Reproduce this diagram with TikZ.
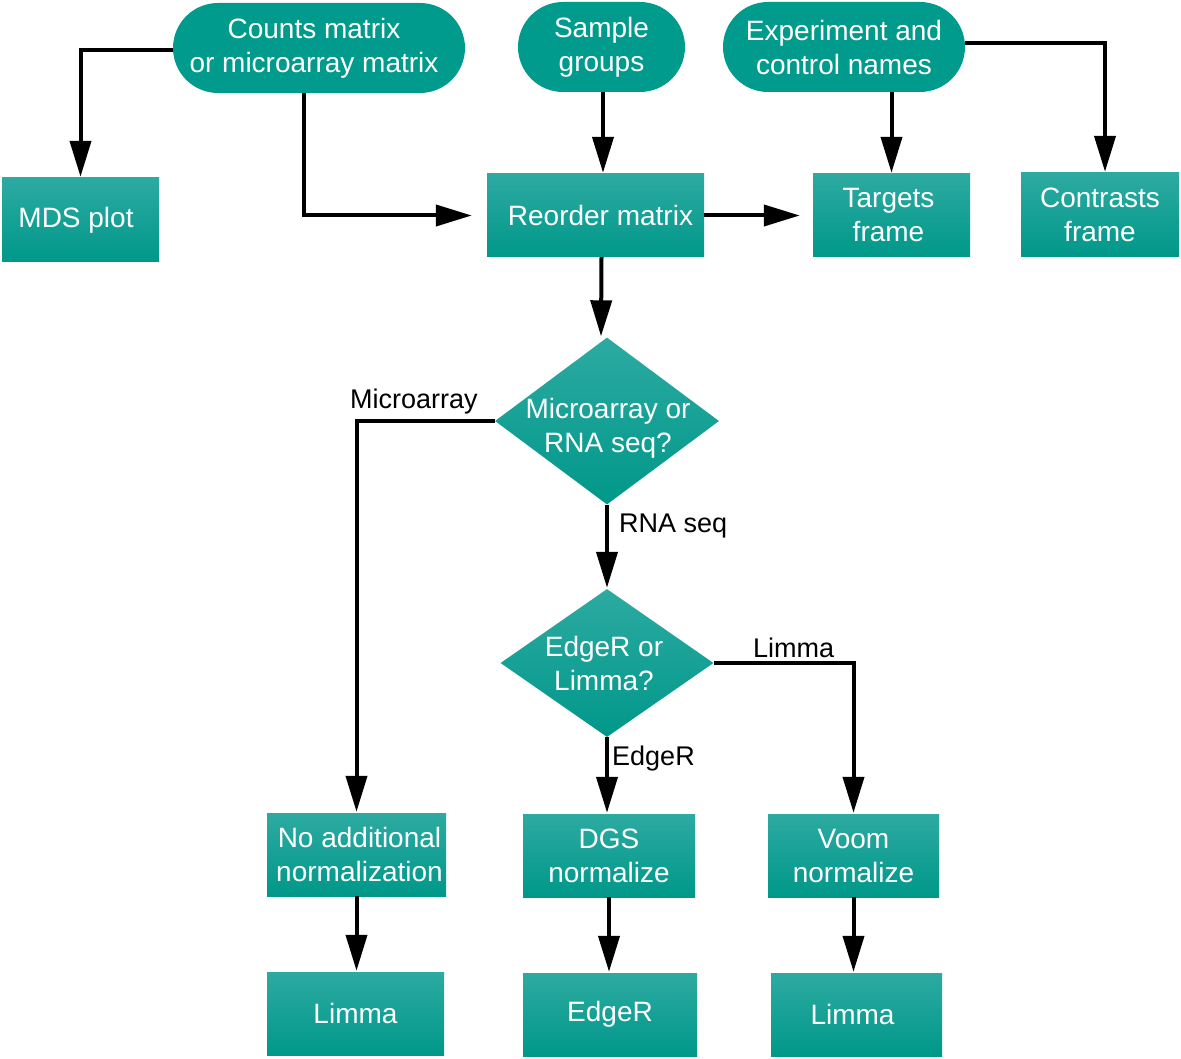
\documentclass[tikz,border=0pt]{standalone}
\usepackage{fontspec}
\setmainfont{Liberation Sans}
\usetikzlibrary{arrows.meta,shapes.geometric}
\definecolor{tealtop}{RGB}{45,170,162}
\definecolor{tealbot}{RGB}{0,152,137}
\definecolor{tealflat}{RGB}{0,155,140}
\tikzset{
  boxbase/.style={rectangle, inner sep=0pt, text=white, align=center,
    font=\fontsize{28}{34}\selectfont, top color=tealtop, bottom color=tealbot, draw=none},
  procbox/.style={boxbase, minimum width=#1},
  termbox/.style={rectangle, rounded corners=45pt, inner sep=0pt, text=white, align=center,
    font=\fontsize{28}{34}\selectfont, fill=tealflat, draw=none, minimum height=90pt, minimum width=#1},
  dia/.style={diamond, inner sep=0pt, top color=tealtop, bottom color=tealbot, draw=none},
  diatext/.style={text=white, align=center, font=\fontsize{28}{34}\selectfont, inner sep=0pt},
  lbl/.style={font=\fontsize{27}{32}\selectfont, inner sep=0pt, anchor=base west},
  arr/.style={line width=4pt, -{Triangle[length=36pt,width=21pt]}, shorten >=1pt}
}
\begin{document}
\begin{tikzpicture}[x=1pt,y=-1pt]
\useasboundingbox (0,0) rectangle (1181,1059);
% top row
\node[termbox=292pt] (counts) at (319,48) {\hspace*{-10pt}Counts matrix\\\hspace*{-10pt}or microarray matrix};
\node[termbox=167pt] (sample) at (601.5,47) {Sample\\groups};
\node[termbox=242pt] (exper) at (844,47) {Experiment and\\control names};
% second row
\node[procbox=157pt, minimum height=84pt] (mds) at (80.5,220) {\hspace*{-9pt}MDS plot};
\node[procbox=217pt, minimum height=83pt] (reorder) at (595.5,215.5) {\hspace*{10pt}Reorder matrix};
\node[procbox=157pt, minimum height=83pt] (targets) at (891.5,215.5) {\hspace*{-6pt}Targets\\\hspace*{-6pt}frame};
\node[procbox=158pt, minimum height=84pt] (contrasts) at (1100,215) {Contrasts\\frame};
% diamonds
\node[dia, minimum width=224pt, minimum height=167pt] (d1) at (607,421) {};
\node[diatext] (d1t) at (608,428) {Microarray or\\RNA seq?};
\node[dia, minimum width=213pt, minimum height=148pt] (d2) at (607,663) {};
\node[diatext] (d2t) at (604,663) {EdgeR or\\Limma?};
% normalization row
\node[procbox=179pt, minimum height=83pt] (noadd) at (356.5,854.5) {\hspace*{6pt}No additional\\\hspace*{6pt}normalization};
\node[procbox=172pt, minimum height=83pt] (dgs) at (609,855.5) {DGS\\normalize};
\node[procbox=171pt, minimum height=83pt] (voom) at (853.5,855.5) {Voom\\normalize};
% bottom row
\node[procbox=177pt, minimum height=83pt] (lim1) at (355.5,1013.5) {Limma};
\node[procbox=174pt, minimum height=83pt] (edger) at (610,1014.5) {EdgeR};
\node[procbox=171pt, minimum height=83pt] (lim3) at (856.5,1014.5) {\hspace*{-8pt}Limma};
% labels
\node[lbl] (lmicro) at (350,408) {Microarray};
\node[lbl] (lrna) at (619,532) {RNA seq};
\node[lbl] (llimma) at (753,657) {Limma};
\node[lbl] (ledger) at (612,765) {EdgeR};
% connectors
\draw[arr] ([yshift=-2pt]counts.west) -| (mds.north);
\draw[arr, shorten >=15pt] ([xshift=-15pt]counts.south) |- (reorder.west);
\draw[arr] ([xshift=1.5pt]sample.south) -- ([xshift=1.5pt]sample.south |- reorder.north);
\draw[arr] (targets.north |- exper.south) -- (targets.north);
\draw[arr] ([yshift=4pt]exper.east) -| ([xshift=5pt]contrasts.north);
\draw[arr, shorten >=13pt] (reorder.east) -- (reorder.east -| targets.west);
\draw[arr] ([xshift=6pt]reorder.south) -- ([xshift=-6pt]d1.north |- d1.north);
\draw[arr] (d1.west) -| (noadd.north);
\draw[arr] (d1.south) -- (d2.north);
\draw[arr] (d2.south) -- (d2.south |- dgs.north);
\draw[arr] (d2.east) -| (voom.north);
\draw[arr] (noadd.south) -- (noadd.south |- lim1.north);
\draw[arr] (dgs.south) -- (dgs.south |- edger.north);
\draw[arr] (voom.south) -- (voom.south |- lim3.north);
\end{tikzpicture}
\end{document}
